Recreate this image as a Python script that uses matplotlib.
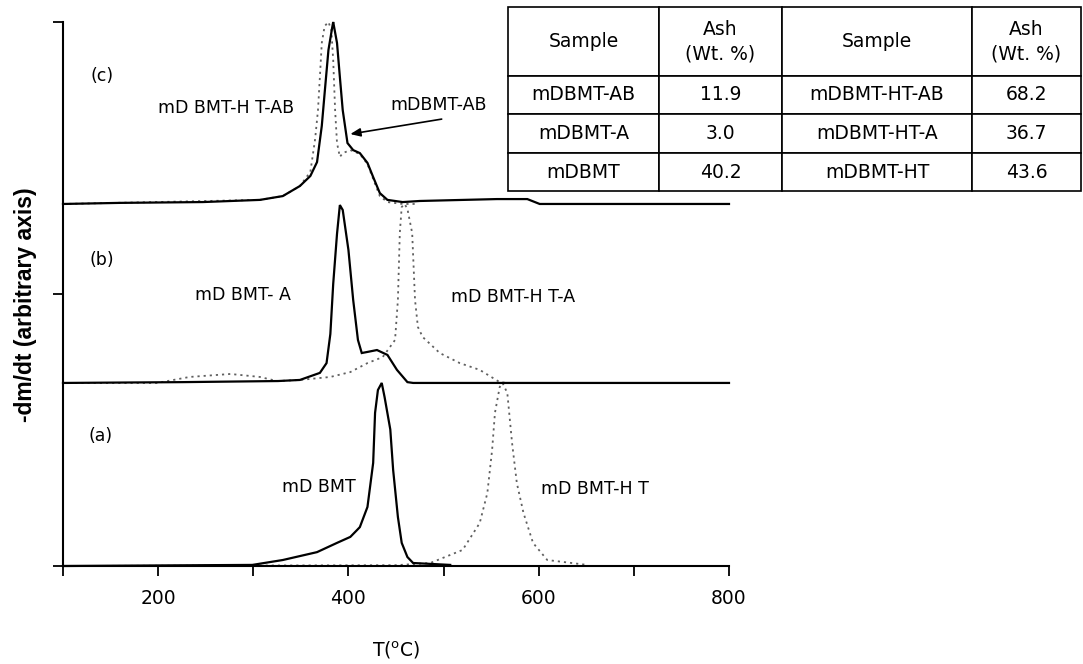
import matplotlib
matplotlib.use("Agg")
import matplotlib.pyplot as plt

# temperature (deg C) and -dm/dt (arbitrary units, relative to each trace's baseline)
# (a) untreated samples
t_dbmt = [100, 299, 331, 367, 388, 402, 409, 412, 420, 426, 428, 431, 435, 438,
          444, 447, 452, 456, 462, 468, 507]
y_dbmt = [0, 0.004, 0.022, 0.051, 0.085, 0.107, 0.132, 0.143, 0.217, 0.379, 0.563,
          0.647, 0.673, 0.621, 0.502, 0.353, 0.180, 0.085, 0.033, 0.011, 0.004]
t_dbmt_ht = [100, 450, 486, 520, 538, 546, 551, 554, 559, 562, 567, 572, 577, 584,
             594, 609, 651]
y_dbmt_ht = [0, 0.003, 0.011, 0.059, 0.158, 0.268, 0.426, 0.563, 0.658, 0.673, 0.636,
             0.452, 0.305, 0.195, 0.085, 0.022, 0.004]

# (b) acid treated
t_a = [100, 226, 326, 349, 370, 377, 381, 384, 388, 391, 394, 400, 405, 410, 414,
       420, 430, 441, 451, 462, 468, 800]
y_a = [0, 0.003, 0.007, 0.011, 0.037, 0.073, 0.180, 0.364, 0.548, 0.654, 0.636,
       0.489, 0.305, 0.158, 0.110, 0.114, 0.121, 0.103, 0.048, 0.003, 0, 0]
t_ht_a = [100, 199, 233, 276, 307, 325, 349, 381, 402, 420, 436, 449, 452, 454, 456,
          459, 462, 467, 470, 473, 478, 496, 517, 538, 559, 567, 735]
y_ht_a = [0, 0, 0.022, 0.033, 0.022, 0.007, 0.011, 0.022, 0.040, 0.073, 0.095, 0.158,
          0.305, 0.551, 0.647, 0.658, 0.640, 0.551, 0.305, 0.206, 0.169, 0.110, 0.073,
          0.048, 0.003, 0, 0]

# (c) acid + base treated
t_ab = [100, 160, 247, 307, 331, 349, 360, 367, 372, 375, 379, 383, 384, 388, 391,
        394, 399, 405, 412, 420, 426, 433, 441, 457, 475, 556, 588, 601, 800]
y_ab = [0, 0.004, 0.007, 0.015, 0.029, 0.066, 0.103, 0.154, 0.287, 0.408, 0.566,
        0.650, 0.669, 0.592, 0.467, 0.345, 0.224, 0.198, 0.187, 0.151, 0.099, 0.040,
        0.015, 0.007, 0.011, 0.018, 0.018, 0, 0]
t_ht_ab = [100, 307, 331, 349, 360, 365, 368, 370, 372, 375, 379, 382, 384, 386, 388,
           391, 394, 402, 412, 420, 426, 433, 441, 457, 470]
y_ht_ab = [0, 0.015, 0.029, 0.066, 0.118, 0.239, 0.345, 0.467, 0.592, 0.654, 0.669,
           0.640, 0.529, 0.345, 0.224, 0.173, 0.187, 0.198, 0.184, 0.147, 0.092, 0.029,
           0.007, 0, 0]

offsets = [0.0, 0.673, 1.331]

# ash content table
tab_header = ["Sample", "Ash\n(Wt. %)", "Sample", "Ash\n(Wt. %)"]
samples_left = ["mDBMT-AB", "mDBMT-A", "mDBMT"]
ash_left = ["11.9", "3.0", "40.2"]
samples_right = ["mDBMT-HT-AB", "mDBMT-HT-A", "mDBMT-HT"]
ash_right = ["68.2", "36.7", "43.6"]

W, H = 1083, 664
fig = plt.figure(figsize=(W / 100, H / 100), dpi=100)
ax = fig.add_axes([63 / W, 1 - 566 / H, 666 / W, 544 / H])

solid = dict(color="black", lw=1.6, solid_joinstyle="miter")
dotted = dict(color="#606060", lw=1.3, linestyle=(0, (1.2, 2.2)))

traces = [
    (t_dbmt, y_dbmt, t_dbmt_ht, y_dbmt_ht),
    (t_a, y_a, t_ht_a, y_ht_a),
    (t_ab, y_ab, t_ht_ab, y_ht_ab),
]
for (ts, ys, td, yd), off in zip(traces, offsets):
    ax.plot(td, [v + off for v in yd], **dotted, clip_on=False)
    ax.plot(ts, [v + off for v in ys], **solid, clip_on=False)

ax.set_xlim(100, 800)
ax.set_ylim(0, 2)
for s in ["top", "right"]:
    ax.spines[s].set_visible(False)
for s in ["left", "bottom"]:
    ax.spines[s].set_linewidth(1.5)

ax.set_xticks([200, 400, 600, 800])
ax.set_xticks([100, 300, 500, 700], minor=True)
ax.set_yticks([0, 1, 2])
ax.set_yticklabels([])
ax.tick_params(axis="both", which="both", direction="out", length=7.5, width=1.3,
               color="black")
ax.tick_params(axis="x", labelsize=13.5, pad=9)

ax.set_xlabel(r"T($^{\rm o}$C)", fontsize=13.5, va="center")
ax.xaxis.set_label_coords(0.5, -0.155)
ax.set_ylabel("-dm/dt (arbitrary axis)", fontsize=16.5, fontweight="bold",
              family="Liberation Sans", va="center")
ax.yaxis.set_label_coords(-0.057, 0.48)

txt = dict(fontsize=12.5, ha="center", va="center")
ax.text(141, 1.80, "(c)", **txt)
ax.text(141, 1.125, "(b)", **txt)
ax.text(140, 0.478, "(a)", **txt)
ax.text(271, 1.684, "mD BMT-H T-AB", **txt)
ax.text(289, 0.996, "mD BMT- A", **txt)
ax.text(573, 0.989, "mD BMT-H T-A", **txt)
ax.text(369, 0.290, "mD BMT", **txt)
ax.text(659, 0.283, "mD BMT-H T", **txt)
ax.annotate("", xy=(402, 1.588), xytext=(498, 1.643),
            arrowprops=dict(arrowstyle="-|>,head_length=0.6,head_width=0.25",
                            color="black", lw=1.2, shrinkA=0, shrinkB=0))
ax.text(495, 1.695, "mDBMT-AB", **txt)

# ash table in the upper right corner
tab_ax = fig.add_axes([508 / W, 1 - 191 / H, 573 / W, 184 / H])
tab_ax.axis("off")
cells = [list(r) for r in zip(samples_left, ash_left, samples_right, ash_right)]
tab = tab_ax.table(cellText=[tab_header] + cells, cellLoc="center",
                   bbox=[0, 0, 1, 1])
tab.auto_set_font_size(False)
col_w = [151, 123, 190, 109]
row_h = [69, 38, 39, 38]
for (r, c), cell in tab.get_celld().items():
    cell.set_width(col_w[c])
    cell.set_height(row_h[r])
    cell.set_linewidth(1.2)
    cell.get_text().set_fontsize(13.5)
    cell.get_text().set_linespacing(1.35)

fig.savefig("out.png", dpi=100)
